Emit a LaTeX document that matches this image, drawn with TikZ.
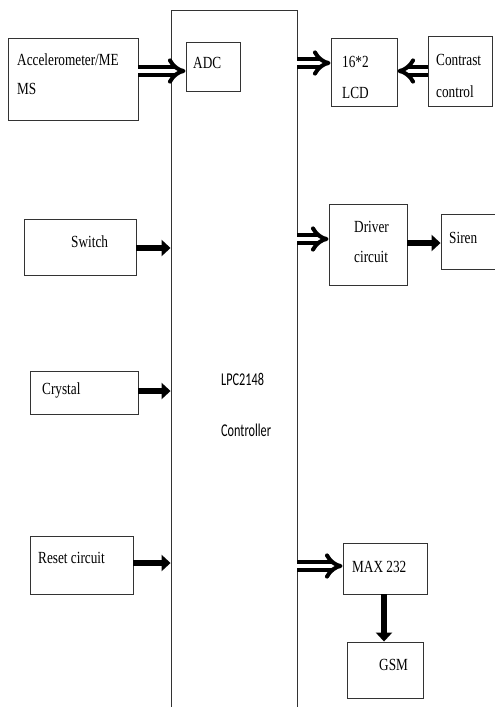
\documentclass[tikz,border=0pt]{standalone}
\usepackage{fontspec}
\usetikzlibrary{arrows.meta}
\newfontfamily\diagfont[FakeStretch=0.78]{Liberation Serif}
\newfontfamily\diagsans[FakeStretch=0.68]{Carlito}

\begin{document}
\begin{tikzpicture}[x=1pt, y=-1pt,
    blk/.style={draw=black!80, line width=0.9pt, inner sep=0pt},
    txt/.style={anchor=base west, inner sep=0pt, font=\diagfont\fontsize{17}{20}\selectfont},
    stxt/.style={anchor=base west, inner sep=0pt, font=\diagsans\fontsize{18}{21}\selectfont},
    dblarrow/.style={double, double distance=4pt, line width=4pt, -{Implies}},
    fatarrow/.style={line width=5.5pt, -{Triangle[length=9pt, width=16pt]}}]
    \useasboundingbox (0,0) rectangle (495,707);
    % controller, its bottom runs off the page
    \node[blk, minimum width=126pt, minimum height=710pt] (ctrl) at (234,365) {};
    \node[stxt] (lpc) at (221,385) {LPC2148};
    \node[stxt] (ctrlname) at (221,436) {Controller};
    % left side
    \node[blk, minimum width=130pt, minimum height=82pt] (acc) at (73,79) {};
    \node[txt] (acctext) at (17,65) {Accelerometer/ME};
    \node[txt] (acctext2) at (17,94) {MS};
    \node[blk, minimum width=54pt, minimum height=49pt] (adc) at (213,66.5) {};
    \node[txt] (adctext) at (193,68) {ADC};
    \node[blk, minimum width=112pt, minimum height=56pt] (switch) at (80,247) {};
    \node[txt] (switchtext) at (71,247) {Switch};
    \node[blk, minimum width=108pt, minimum height=43pt] (crystal) at (84,392.5) {};
    \node[txt] (crystaltext) at (42,394) {Crystal};
    \node[blk, minimum width=103pt, minimum height=58pt] (reset) at (81.5,565) {};
    \node[txt] (resettext) at (38,563) {Reset circuit};
    % right side
    \node[blk, minimum width=66pt, minimum height=68pt] (lcd) at (364,72) {};
    \node[txt] (lcdtext) at (342,67) {16*2};
    \node[txt] (lcdtext2) at (342,98) {LCD};
    \node[blk, minimum width=64pt, minimum height=70pt] (contrast) at (460,71) {};
    \node[txt] (contrasttext) at (436,65) {Contrast};
    \node[txt] (contrasttext2) at (436,97) {control};
    \node[blk, minimum width=78pt, minimum height=81pt] (driver) at (368,244.5) {};
    \node[txt] (drivertext) at (354,232) {Driver};
    \node[txt] (drivertext2) at (354,262) {circuit};
    \node[blk, minimum width=70pt, minimum height=55pt] (siren) at (476,241.5) {};
    \node[txt] (sirentext) at (449,243) {Siren};
    \node[blk, minimum width=84pt, minimum height=51pt] (max) at (385,568.5) {};
    \node[txt] (maxtext) at (352,572) {MAX 232};
    \node[blk, minimum width=76pt, minimum height=56pt] (gsm) at (385,670) {};
    \node[txt] (gsmtext) at (379,670) {GSM};
    % arrows
    \draw[dblarrow] (acc.east |- 0,71) -- (adc.west |- 0,71);
    \draw[dblarrow] (ctrl.east |- 0,63) -- (lcd.west |- 0,63);
    \draw[dblarrow] (contrast.west |- 0,71) -- (lcd.east |- 0,71);
    \draw[dblarrow] (ctrl.east |- 0,239) -- (driver.west |- 0,239);
    \draw[dblarrow] (ctrl.east |- 0,566) -- (max.west |- 0,566);
    \draw[fatarrow] (driver.east |- 0,243) -- (siren.west |- 0,243);
    \draw[fatarrow] (switch.east |- 0,248) -- (ctrl.west |- 0,248);
    \draw[fatarrow] (crystal.east |- 0,391) -- (ctrl.west |- 0,391);
    \draw[fatarrow] (reset.east |- 0,563) -- (ctrl.west |- 0,563);
    \draw[fatarrow] (max.south -| 384,0) -- (gsm.north -| 384,0);
\end{tikzpicture}
\end{document}
